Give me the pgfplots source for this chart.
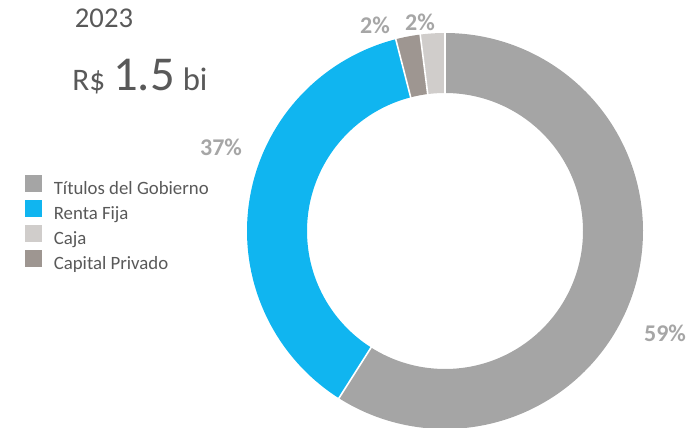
\documentclass[border=0pt]{standalone}
\usepackage{pgfplots}
\pgfplotsset{compat=1.18}
\usepackage{fontspec}
\setmainfont{Carlito}

\definecolor{tgray}{HTML}{A5A5A5}
\definecolor{tblue}{HTML}{10B5F0}
\definecolor{tcaja}{HTML}{D0CDCB}
\definecolor{tcap}{HTML}{9E9691}
\definecolor{txt}{HTML}{595959}
\definecolor{lbl}{HTML}{A6A6A6}

% shares (%): Titulos 59, Renta Fija 37, Capital Privado 2, Caja 2
% clockwise from 12 o'clock, 3.6 deg per percent

\begin{document}
\begin{tikzpicture}
\begin{axis}[
  hide axis, scale only axis,
  width=519pt, height=321pt,
  xmin=0, xmax=692, ymin=0, ymax=428,
  legend style={at={(axis cs:21,256)}, anchor=north west, draw=none, fill=none,
    font=\fontsize{14.1}{14.1}\selectfont, text=txt,
    nodes={inner sep=0pt, text height=10pt, text depth=3pt},
    row sep=1.25pt, column sep=9pt},
  legend cell align=left,
]
% ring segments: centre (445,197), mid radius 168, ring width 60 px
\addplot[forget plot, draw=tgray, line width=45pt, domain=-122.4:90, samples=150] ({445+168*cos(x)},{197+168*sin(x)});
\addplot[forget plot, draw=tblue, line width=45pt, domain=-255.6:-122.4, samples=100] ({445+168*cos(x)},{197+168*sin(x)});
\addplot[forget plot, draw=tcap, line width=45pt, domain=-262.8:-255.6, samples=10] ({445+168*cos(x)},{197+168*sin(x)});
\addplot[forget plot, draw=tcaja, line width=45pt, domain=-270:-262.8, samples=10] ({445+168*cos(x)},{197+168*sin(x)});
% separators
\addplot[forget plot, white, line width=1.2pt, domain=136:200, samples=2] ({445+x*cos(90)},{197+x*sin(90)});
\addplot[forget plot, white, line width=1.2pt, domain=136:200, samples=2] ({445+x*cos(-122.4)},{197+x*sin(-122.4)});
\addplot[forget plot, white, line width=1.2pt, domain=136:200, samples=2] ({445+x*cos(-255.6)},{197+x*sin(-255.6)});
\addplot[forget plot, white, line width=1.2pt, domain=136:200, samples=2] ({445+x*cos(-262.8)},{197+x*sin(-262.8)});

\pgfplotsset{legend image code/.code={\fill[#1] (0pt,-1.2pt) rectangle (12pt,10.8pt);}}
\addlegendimage{tgray}\addlegendentry{Títulos del Gobierno}
\addlegendimage{tblue}\addlegendentry{Renta Fija}
\addlegendimage{tcaja}\addlegendentry{Caja}
\addlegendimage{tcap}\addlegendentry{Capital Privado}

% data labels
\node[text=lbl, font=\bfseries\fontsize{18}{18}\selectfont] at (axis cs:375,403) {2\%};
\node[text=lbl, font=\bfseries\fontsize{18}{18}\selectfont] at (axis cs:420,406) {2\%};
\node[text=lbl, font=\bfseries\fontsize{18}{18}\selectfont] at (axis cs:221,281) {37\%};
\node[text=lbl, font=\bfseries\fontsize{18}{18}\selectfont] at (axis cs:665,95) {59\%};

% title
\node[text=txt, font=\fontsize{21.5}{21.5}\selectfont] at (axis cs:104,409.5) {2023};
\node[text=txt, anchor=base west, inner sep=0pt] at (axis cs:72,337.3)
  {\fontsize{23.5}{23.5}\selectfont R\$\hspace{6pt}\fontsize{36.5}{36.5}\selectfont 1.5\hspace{6pt}\fontsize{24.5}{24.5}\selectfont bi};
\end{axis}
\pgfresetboundingbox
\path[use as bounding box] (current axis.south west) rectangle (current axis.north east);
\end{tikzpicture}
\end{document}
